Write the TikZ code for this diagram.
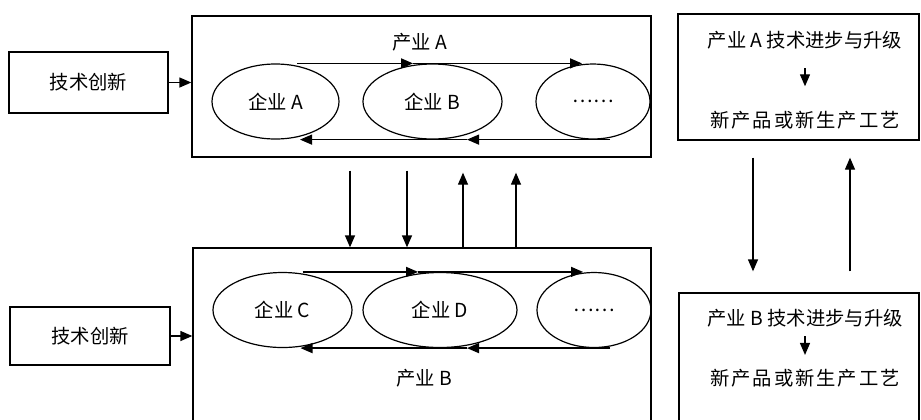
\documentclass[tikz,border=0pt]{standalone}
\usepackage{fontspec}
\setmainfont{Noto Sans CJK SC}
\usetikzlibrary{arrows.meta, shapes.geometric, calc}

\begin{document}
\begin{tikzpicture}[x=0.75pt, y=-0.75pt,
		every node/.style={font=\fontsize{14.5}{16}\selectfont},
		box/.style={draw, rectangle, line width=1pt, inner sep=0pt},
		firm/.style={draw, ellipse, line width=0.9pt, inner sep=0pt, minimum height=56.25pt},
		flow/.style={line width=1pt, arrows={-Triangle[length=9pt, width=7.5pt]}}]
		\path[use as bounding box, clip] (0,0) rectangle (921,419);

		\node[box, minimum width=119.25pt, minimum height=45.75pt] (tech1) at (88.5,82.5) {技术创新};
		\node[box, minimum width=120pt, minimum height=43.5pt] (tech2) at (90,336) {技术创新};
		\node[box, minimum width=344.25pt, minimum height=105.75pt] (indA) at (421.5,86.5) {};
		\node[box, minimum width=343.5pt, minimum height=159pt] (indB) at (422,354) {};
		\node[box, minimum width=180.75pt, minimum height=94.5pt] (upA) at (798.5,77) {};
		\node[box, minimum width=180pt, minimum height=125.25pt] (upB) at (799,376.5) {};

		\node (nameA) at (420,42) {产业 A};
		\node (nameB) at (424,378) {产业 B};
		\node[firm, minimum width=95.25pt] (eA) at (275.5,101.5) {企业 A};
		\node[firm, minimum width=104.25pt] (eB) at (432.5,101.5) {企业 B};
		\node[firm, minimum width=85.5pt] (eAx) at (593,101.5) {……};
		\node[firm, minimum width=104.25pt] (eC) at (282.5,310) {企业 C};
		\node[firm, minimum width=115.5pt] (eD) at (440,310) {企业 D};
		\node[firm, minimum width=85.5pt] (eBx) at (594,310) {……};

		\node (progA) at (805,40) {产业 A 技术进步与升级};
		\node (prodA) at (805,120) {\addfontfeature{LetterSpace=10}新产品或新生产工艺};
		\node (progB) at (805,318) {产业 B 技术进步与升级};
		\node (prodB) at (805,378) {\addfontfeature{LetterSpace=10}新产品或新生产工艺};

		\draw[flow] (tech1) -- (tech1 -| indA.west);
		\draw[flow] (tech2) -- (tech2 -| indB.west);

		\draw[flow] ($(eA.north)+(21.5,0)$) -- ($(eB.north)+(-19.5,0)$);
		\draw[flow] ($(eB.north)+(-19.5,0)$) -- ($(eAx.north)+(-11,0)$);
		\draw[flow] ($(eAx.south)+(17,0)$) -- ($(eB.south)+(34.5,0)$);
		\draw[flow] ($(eB.south)+(34.5,0)$) -- ($(eA.south)+(24.5,0)$);

		\draw[flow] ($(eC.north)+(20,0)$) -- ($(eD.north)+(-22,0)$);
		\draw[flow] ($(eD.north)+(-22,0)$) -- ($(eBx.north)+(-11,0)$);
		\draw[flow] ($(eBx.south)+(16,0)$) -- ($(eD.south)+(27,0)$);
		\draw[flow] ($(eD.south)+(27,0)$) -- ($(eC.south)+(18,0)$);

		\draw[flow, shorten <=9.75pt] (indA.south -| 350,0) -- (indB.north -| 350,0);
		\draw[flow, shorten <=9.75pt] (indA.south -| 407,0) -- (indB.north -| 407,0);
		\draw[flow, shorten >=11.25pt] (indB.north -| 463,0) -- (indA.south -| 463,0);
		\draw[flow, shorten >=11.25pt] (indB.north -| 516,0) -- (indA.south -| 516,0);

		\draw[flow, shorten <=12.75pt, shorten >=15.75pt] (upA.south -| 753,0) -- (upB.north -| 753,0);
		\draw[flow, shorten <=15.75pt, shorten >=12.75pt] (upB.north -| 850,0) -- (upA.south -| 850,0);

		\draw[flow, shorten <=11pt, shorten >=15pt] (progA) -- (prodA);
		\draw[flow, shorten <=3.4pt, shorten >=7pt] (progB) -- (prodB);
\end{tikzpicture}
\end{document}
